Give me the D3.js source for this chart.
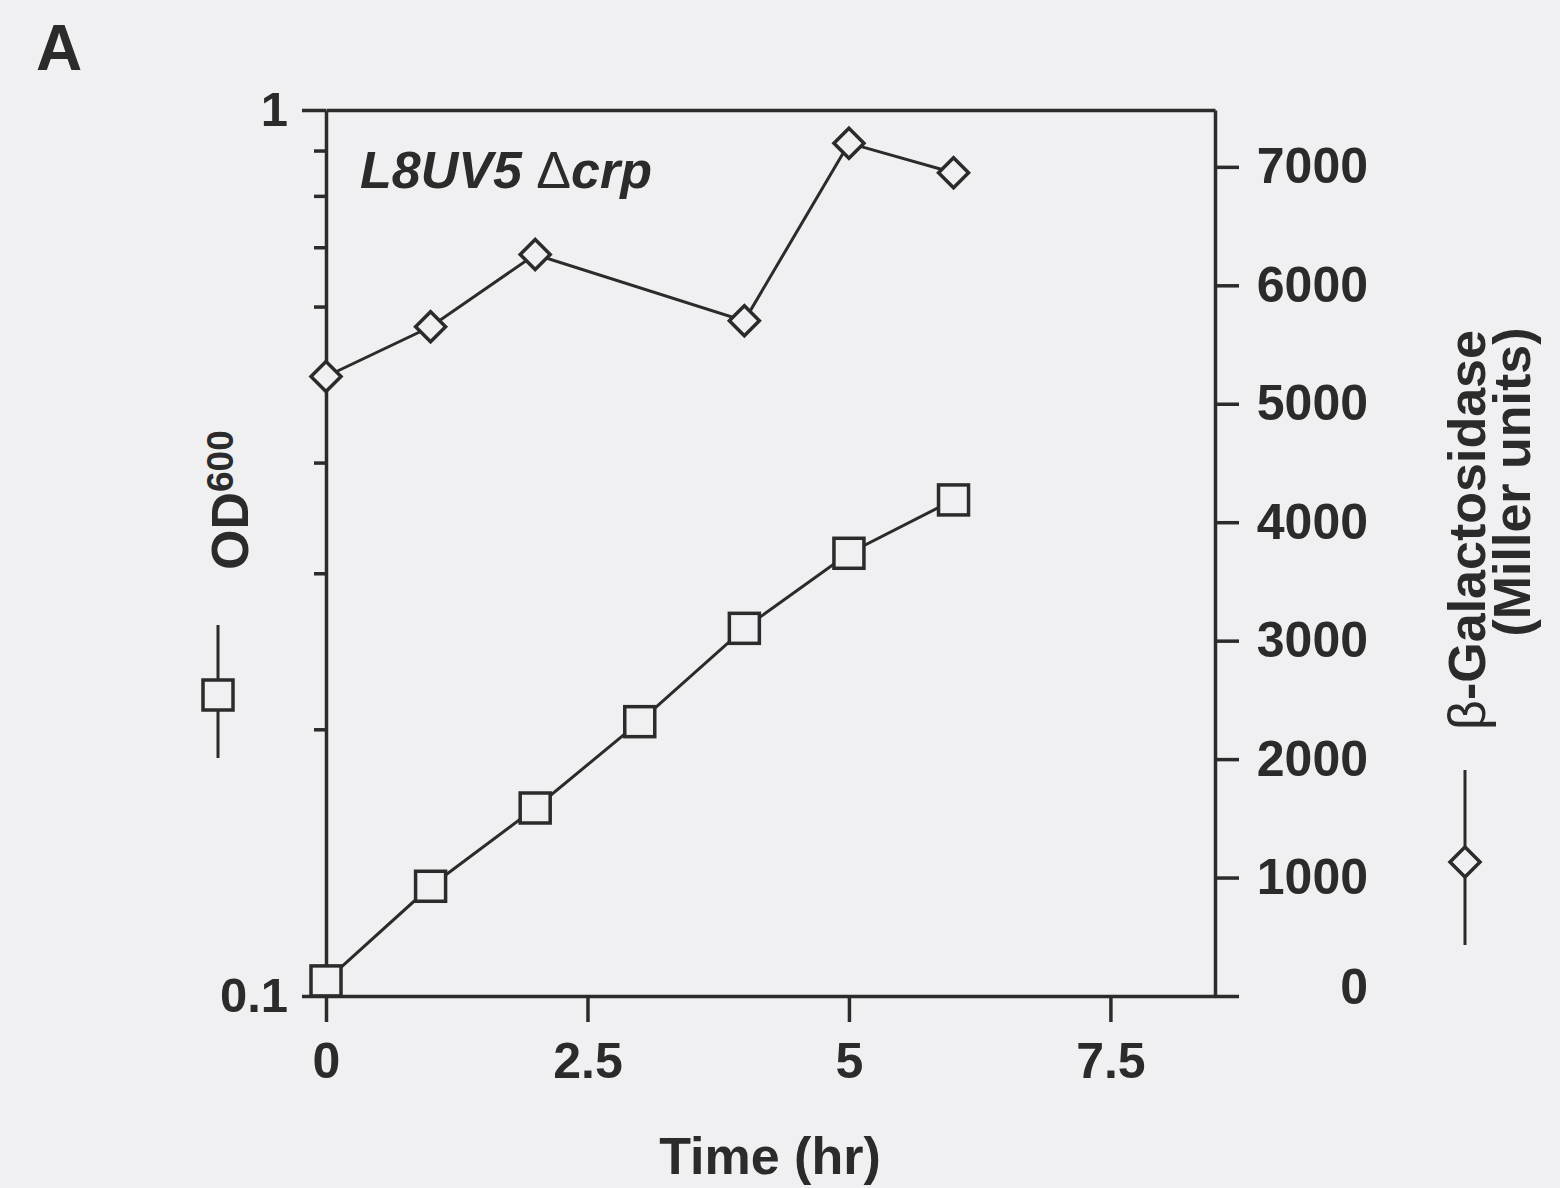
<html lang="en">
<head>
<meta charset="utf-8">
<title>L8UV5 crp growth and beta-galactosidase</title>
<script src="https://cdn.jsdelivr.net/npm/d3@7/dist/d3.min.js"></script>
<style>
body { margin: 0; background: #f0eff2; }
text { font-family: "Liberation Sans", Arial, Helvetica, sans-serif; fill: #2b2b2b; }
</style>
</head>

<body></body>

<script type="text/javascript">

/*********************************************************************/
// Data

var timeOD = [0, 1, 2, 3, 4, 5, 6];
var od600 = [0.104, 0.133, 0.163, 0.204, 0.260, 0.316, 0.363];

var timeGal = [0, 1, 2, 4, 5, 6];
var galactosidase = [5230, 5650, 6260, 5700, 7200, 6950];

var xTicks = [0, 2.5, 5, 7.5];
var odMajorTicks = [0.1, 1];
var odMinorTicks = [0.2, 0.3, 0.4, 0.5, 0.6, 0.7, 0.8, 0.9];
var galTicks = [0, 1000, 2000, 3000, 4000, 5000, 6000, 7000];

/*********************************************************************/
// Canvas

width = 1560;
height = 1188;
bg = "#f0eff2";
ink = "#2b2b2b";

svg = d3.select("body")
	.append("svg")
	.attr("width", width)
	.attr("height", height);

svg.append("rect")
	.attr("width", width)
	.attr("height", height)
	.attr("fill", bg);

/*********************************************************************/
// Scales

x = d3.scaleLinear().domain([0, 8.5]).range([326, 1215]);
yOD = d3.scaleLog().domain([0.1, 1]).range([996, 110]);
yGal = d3.scaleLinear().domain([0, 7480]).range([996, 110]);

function styleAxis(g, size){
	g.attr("font-family", null).attr("font-size", size).attr("font-weight", "bold");
	g.selectAll("path, line").attr("stroke", ink).attr("stroke-width", 3.5);
	g.selectAll("text").attr("fill", ink);
}

/*********************************************************************/
// Axes

// top border
svg.append("g")
	.attr("transform", "translate(0,110)")
	.call(d3.axisTop(x).tickValues([]).tickSizeOuter(0))
	.call(styleAxis, 50);

// bottom
svg.append("g")
	.attr("transform", "translate(0,996)")
	.call(d3.axisBottom(x).tickValues(xTicks).tickSize(26).tickSizeOuter(0).tickPadding(20)
		.tickFormat(function(d){ return d; }))
	.call(styleAxis, 50);

// left, log scale
svg.append("g")
	.attr("transform", "translate(" + x(0) + ",0)")
	.call(d3.axisLeft(yOD).tickValues(odMajorTicks).tickSize(24).tickSizeOuter(0).tickPadding(14)
		.tickFormat(function(d){ return d; }))
	.call(styleAxis, 49);

svg.append("g")
	.attr("transform", "translate(" + x(0) + ",0)")
	.call(d3.axisLeft(yOD).tickValues(odMinorTicks).tickSize(12).tickFormat(""))
	.call(styleAxis, 49)
	.select(".domain").remove();

// right
gRight = svg.append("g")
	.attr("transform", "translate(" + x(8.5) + ",0)")
	.call(d3.axisRight(yGal).tickValues(galTicks).tickSize(24).tickSizeOuter(0)
		.tickFormat(function(d){ return d; }))
	.call(styleAxis, 50);

gRight.selectAll(".tick text")
	.attr("text-anchor", "end")
	.attr("x", 153)
	.attr("y", function(d){ return d === 0 ? -9 : 0; });

/*********************************************************************/
// Lines

var lineOD = d3.line()
	.x(function(d, i){ return x(timeOD[i]); })
	.y(function(d){ return yOD(d); });

var lineGal = d3.line()
	.x(function(d, i){ return x(timeGal[i]); })
	.y(function(d){ return yGal(d); });

svg.append("path")
	.attr("d", lineOD(od600))
	.attr("fill", "none")
	.attr("stroke", ink)
	.attr("stroke-width", 3);

svg.append("path")
	.attr("d", lineGal(galactosidase))
	.attr("fill", "none")
	.attr("stroke", ink)
	.attr("stroke-width", 3);

/*********************************************************************/
// Markers

sq = 30;

svg.selectAll(".odMark")
	.data(od600)
	.enter()
	.append("rect")
	.attr("class", "odMark")
	.attr("x", function(d, i){ return x(timeOD[i]) - sq/2; })
	.attr("y", function(d){ return yOD(d) - sq/2; })
	.attr("width", sq)
	.attr("height", sq)
	.attr("fill", bg)
	.attr("stroke", ink)
	.attr("stroke-width", 3.5);

diamond = d3.symbol().type(d3.symbolSquare).size(450);

svg.selectAll(".galMark")
	.data(galactosidase)
	.enter()
	.append("path")
	.attr("class", "galMark")
	.attr("d", diamond)
	.attr("transform", function(d, i){ return "translate(" + x(timeGal[i]) + "," + yGal(d) + ") rotate(45)"; })
	.attr("fill", bg)
	.attr("stroke", ink)
	.attr("stroke-width", 3.5);

/*********************************************************************/
// Labels

svg.append("text")
	.attr("x", 36)
	.attr("y", 70)
	.attr("font-size", 64)
	.attr("font-weight", "bold")
	.text("A");

strain = svg.append("text")
	.attr("x", 360)
	.attr("y", 188)
	.attr("font-size", 52)
	.attr("font-weight", "bold")
	.attr("font-style", "italic");
strain.append("tspan").text("L8UV5 ");
strain.append("tspan").attr("font-weight", "normal").attr("font-style", "normal").text("\u0394");
strain.append("tspan").text("crp");

svg.append("text")
	.attr("x", 770)
	.attr("y", 1174)
	.attr("text-anchor", "middle")
	.attr("font-size", 52)
	.attr("font-weight", "bold")
	.text("Time (hr)");

// left title + legend
odLabel = svg.append("text")
	.attr("transform", "translate(248,570) rotate(-90)")
	.attr("font-weight", "bold");
odLabel.append("tspan").attr("font-size", 52).text("OD");
odLabel.append("tspan").attr("font-size", 37).attr("dy", -15).text("600");

svg.append("line")
	.attr("x1", 218).attr("x2", 218)
	.attr("y1", 625).attr("y2", 758)
	.attr("stroke", ink).attr("stroke-width", 3);

svg.append("rect")
	.attr("x", 218 - sq/2)
	.attr("y", 695 - sq/2)
	.attr("width", sq)
	.attr("height", sq)
	.attr("fill", bg)
	.attr("stroke", ink)
	.attr("stroke-width", 3.5);

// right title + legend
galLabel = svg.append("text")
	.attr("transform", "translate(1485,530) rotate(-90)")
	.attr("text-anchor", "middle")
	.attr("font-size", 52)
	.attr("font-weight", "bold");
galLabel.append("tspan").attr("font-weight", "normal").text("\u03b2");
galLabel.append("tspan").text("-Galactosidase");

svg.append("text")
	.attr("transform", "translate(1530,482) rotate(-90)")
	.attr("text-anchor", "middle")
	.attr("font-size", 52)
	.attr("font-weight", "bold")
	.text("(Miller units)");

svg.append("line")
	.attr("x1", 1465).attr("x2", 1465)
	.attr("y1", 770).attr("y2", 945)
	.attr("stroke", ink).attr("stroke-width", 3);

svg.append("path")
	.attr("d", diamond)
	.attr("transform", "translate(1465,862) rotate(45)")
	.attr("fill", bg)
	.attr("stroke", ink)
	.attr("stroke-width", 3.5);

</script>
</html>
